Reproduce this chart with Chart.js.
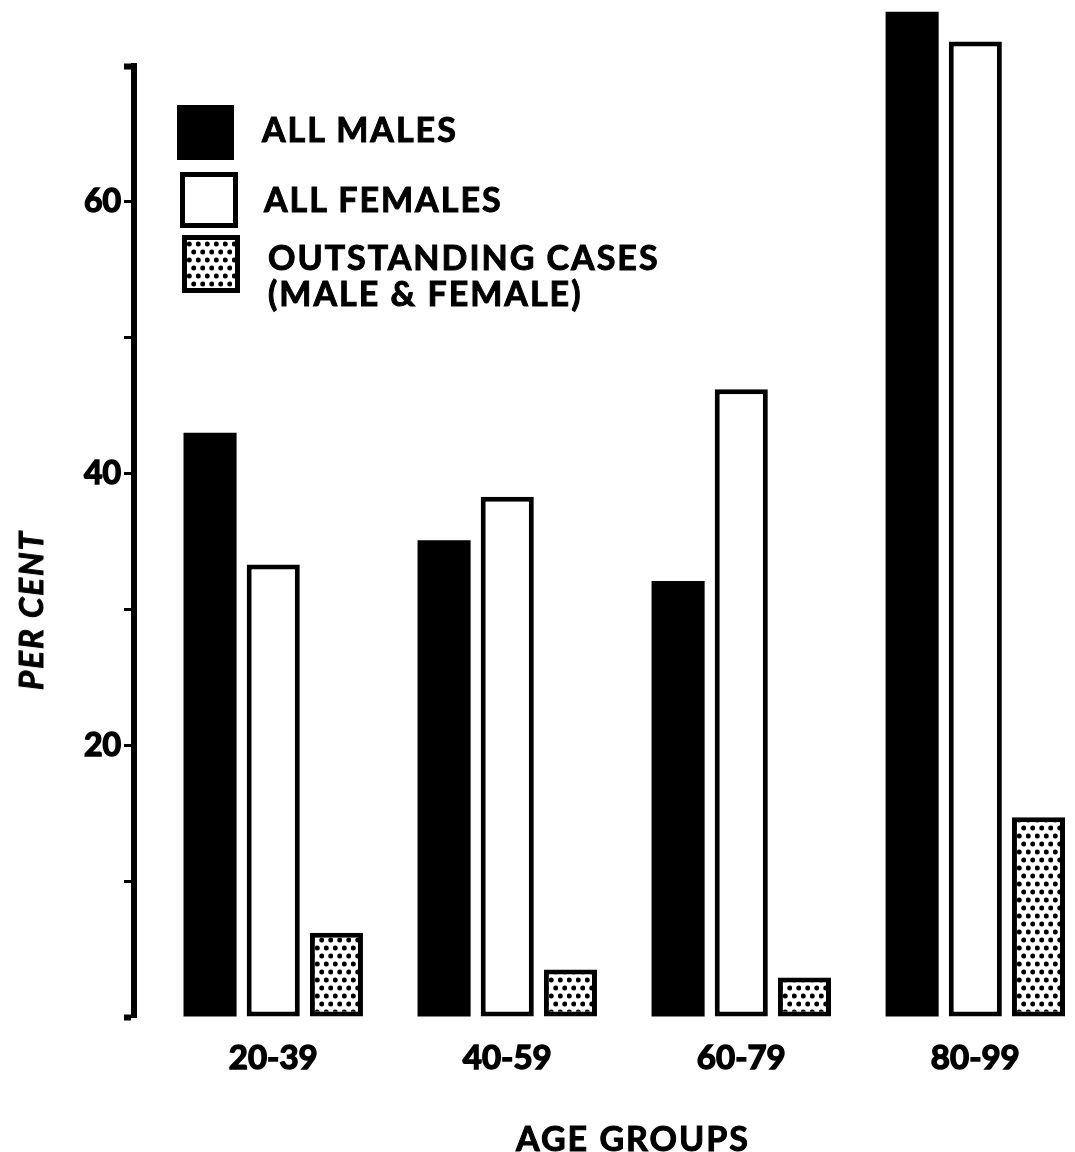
<!DOCTYPE html>
<html>
<head>
<meta charset="utf-8">
<script src="https://cdn.jsdelivr.net/npm/chart.js@4.4.1/dist/chart.umd.min.js"></script>
<style>
  body { margin: 0; background: #fff; overflow: hidden; }
  #wrap { position: relative; width: 1075px; height: 1152px; }
  .txt { position: absolute; font-family: Lato, "Open Sans", sans-serif; font-weight: 700; color: #000; white-space: nowrap; letter-spacing: 2px; -webkit-text-stroke: 1px #000; }
  .box { position: absolute; box-sizing: border-box; }
</style>
</head>
<body>
<div id="wrap">
  <canvas id="c"></canvas>

  <div class="box" style="left:177px;top:105px;width:57px;height:55px;background:#000"></div>
  <div class="box" style="left:180px;top:172px;width:58px;height:56px;border:5px solid #000;background:#fff"></div>
  <div class="box" id="dotBox" style="left:182px;top:235px;width:58px;height:58px;border:5px solid #000"></div>

  <div class="txt" style="left:262px;top:108px;font-size:34px">ALL MALES</div>
  <div class="txt" style="left:264px;top:178px;font-size:34px">ALL FEMALES</div>
  <div class="txt" style="left:268px;top:236px;font-size:34px">OUTSTANDING CASES</div>
  <div class="txt" style="left:268px;top:272px;font-size:34px">(MALE &amp; FEMALE)</div>

  <div class="txt" style="left:30px;top:610px;font-size:33px;font-style:italic;transform:translate(-50%,-50%) rotate(-90deg)">PER CENT</div>
  <div class="txt" style="left:633px;top:1137px;font-size:34px;transform:translate(-50%,-50%)">AGE GROUPS</div>
</div>
<script>
'use strict';

// values (per cent)
const ageGroups = ['20-39', '40-59', '60-79', '80-99'];
const allMales = [43.0, 35.1, 32.1, 74.0];
const allFemales = [33.3, 38.3, 46.2, 71.8];
const outstandingCases = [6.2, 3.5, 2.9, 14.7];
const yLabelled = [20, 40, 60];

function makeDotTile() {
    const tile = document.createElement('canvas');
    tile.width = 9;
    tile.height = 16;
    const g = tile.getContext('2d');
    g.fillStyle = '#fff';
    g.fillRect(0, 0, 9, 16);
    g.fillStyle = '#000';
    // staggered dots, wrapped so the tile repeats cleanly
    [[2.25, 4], [6.75, 12]].forEach(([x, y]) => {
        g.beginPath();
        g.arc(x, y, 2.5, 0, Math.PI * 2);
        g.fill();
    });
    return tile;
}

const tile = makeDotTile();
document.getElementById('dotBox').style.background = 'url(' + tile.toDataURL() + ') repeat';

const canvas = document.getElementById('c');
const dots = canvas.getContext('2d').createPattern(tile, 'repeat');

const asPoints = arr => arr.map((v, i) => ({ x: i, y: v }));

const common = {
    categoryPercentage: 0.81,
    barPercentage: 0.84,
    borderColor: '#000',
    borderSkipped: false,
    clip: false,
};

const boldFont = size => ({ family: 'Lato', weight: 'bold', size });

new Chart(canvas, {
    type: 'bar',
    data: {
        datasets: [
            { ...common, label: 'ALL MALES', data: asPoints(allMales), backgroundColor: '#000', borderWidth: 0 },
            { ...common, label: 'ALL FEMALES', data: asPoints(allFemales), backgroundColor: '#fff', borderWidth: 5 },
            { ...common, label: 'OUTSTANDING CASES (MALE & FEMALE)', data: asPoints(outstandingCases), backgroundColor: dots, borderWidth: 5 },
        ]
    },
    options: {
        responsive: true,
        maintainAspectRatio: false,
        animation: false,
        layout: { padding: { top: 66, left: 0, right: 0, bottom: 0 } },
        plugins: {
            legend: { display: false },
            tooltip: { enabled: false },
        },
        scales: {
            x: {
                type: 'linear',
                offset: false,
                min: -0.595,
                max: 3.426,
                grid: { display: false, drawTicks: false },
                border: { display: false },
                afterBuildTicks: s => { s.ticks = ageGroups.map((_, i) => ({ value: i })); },
                ticks: {
                    autoSkip: false,
                    maxRotation: 0,
                    padding: 22,
                    color: '#000',
                    textStrokeColor: '#000',
                    textStrokeWidth: 1.5,
                    font: boldFont(33),
                    callback: v => ageGroups[v] || ''
                },
                afterFit: s => { s.height = 135; }
            },
            y: {
                min: 0,
                max: 70,
                grid: {
                    display: true,
                    drawOnChartArea: false,
                    drawTicks: true,
                    tickLength: 10,
                    tickColor: '#000',
                    tickWidth: ctx => (ctx.tick && (ctx.tick.value === 0 || ctx.tick.value === 70)) ? 6 : 3
                },
                border: { display: true, color: '#000', width: 6 },
                ticks: {
                    stepSize: 10,
                    padding: 3,
                    color: '#000',
                    textStrokeColor: '#000',
                    textStrokeWidth: 1.5,
                    font: boldFont(32),
                    callback: v => yLabelled.includes(v) ? String(v) : ''
                },
                afterFit: s => { s.width = 134; }
            }
        }
    }
});
</script>
</body>
</html>
